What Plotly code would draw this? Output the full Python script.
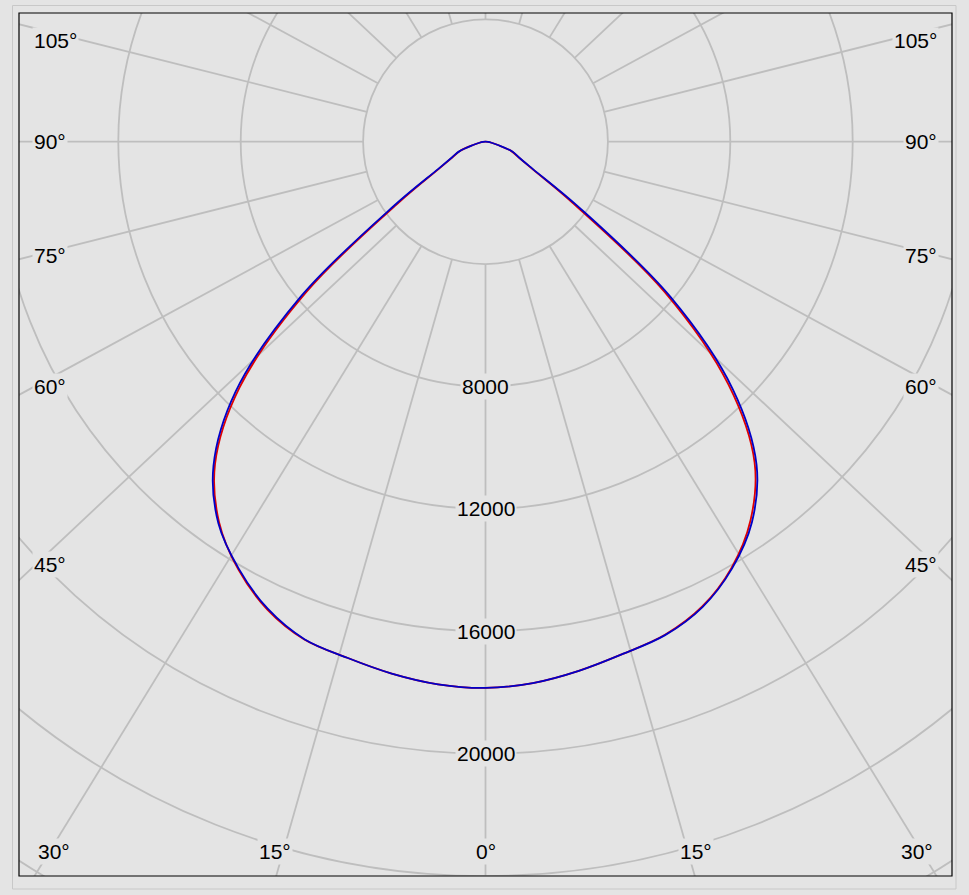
import numpy as np
import plotly.graph_objects as go

# ---------------- data ----------------
ANGLES = [0, 5, 10, 15, 20, 25, 30, 35, 40, 45, 50, 55, 60, 65, 70, 75, 80, 85, 90]
BLUE_LEFT = [17850, 17800, 17650, 17460, 17300, 16840, 16120, 15220, 13830, 11550,
             7890, 3650, 1790, 1200, 900, 420, 200, 80, 0]
BLUE_RIGHT = [17850, 17760, 17560, 17330, 17160, 16780, 16110, 15180, 13780, 11420,
              7890, 3700, 1790, 1200, 930, 420, 200, 80, 0]
RED_LEFT = [17850, 17800, 17650, 17460, 17310, 16870, 16150, 15180, 13750, 11370,
            7640, 3450, 1740, 1180, 890, 420, 200, 80, 0]
RED_RIGHT = [17850, 17760, 17560, 17330, 17150, 16760, 16080, 15100, 13680, 11230,
             7640, 3450, 1740, 1180, 900, 420, 200, 80, 0]

RING_VALUES = [4000, 8000, 12000, 16000, 20000, 24000, 28000]
RING_LABELS = [8000, 12000, 16000, 20000]
SPOKE_ANGLES = list(range(0, 360, 15))
ANGLE_TICKS = list(range(0, 181, 15))

# ---------------- styling / geometry ----------------
W, H = 969, 895
PL, PR, PT, PB = 19, 952, 13, 876      # plot box in pixels
CX, CY = 485.5, 141.7                  # centre of the diagram in pixels
K = 0.0306                             # pixels per cd
SPOKE_Y = 0.94                         # vertical squeeze of the spoke directions seen in the picture
BG = "#e4e4e4"
GRID = "#bebebe"
FONT = dict(family="Liberation Sans", size=21, color="#000000")

XR = [(PL - CX) / K, (PR - CX) / K]
YR = [-(PB - CY) / K, (CY - PT) / K]


def to_xy(theta_deg, value, side):
    t = np.radians(np.asarray(theta_deg, dtype=float))
    v = np.asarray(value, dtype=float)
    return side * v * np.sin(t), -v * np.cos(t)


def curve(left, right):
    xl, yl = to_xy(ANGLES[::-1], left[::-1], -1)
    xr, yr = to_xy(ANGLES, right, 1)
    return np.concatenate([xl, xr[1:]]), np.concatenate([yl, yr[1:]])


fig = go.Figure()

rx, ry = curve(RED_LEFT, RED_RIGHT)
bx, by = curve(BLUE_LEFT, BLUE_RIGHT)
fig.add_trace(go.Scatter(x=rx, y=ry, mode="lines",
                         line=dict(color="#e00000", width=1.8, shape="spline", smoothing=1.0),
                         hoverinfo="skip", showlegend=False))
fig.add_trace(go.Scatter(x=bx, y=by, mode="lines",
                         line=dict(color="#0000c8", width=1.8, shape="spline", smoothing=1.0),
                         hoverinfo="skip", showlegend=False))

shapes = []
for r in RING_VALUES:
    shapes.append(dict(type="circle", xref="x", yref="y", x0=-r, x1=r, y0=-r, y1=r,
                       line=dict(color=GRID, width=1.8), layer="below"))
r_in = RING_VALUES[0]
r_out = 60000
for a in SPOKE_ANGLES:
    t = np.radians(a)
    dx, dy = np.sin(t), -np.cos(t) * SPOKE_Y
    n = np.hypot(dx, dy)
    dx, dy = dx / n, dy / n
    shapes.append(dict(type="line", xref="x", yref="y",
                       x0=r_in * dx, y0=r_in * dy,
                       x1=r_out * dx, y1=r_out * dy,
                       line=dict(color=GRID, width=1.8), layer="below"))
# outer light frame of the control
shapes.append(dict(type="rect", xref="paper", yref="paper",
                   x0=(12.5 - PL) / (PR - PL), x1=(956 - PL) / (PR - PL),
                   y0=(PB - 889) / (PB - PT), y1=(PB - 5.5) / (PB - PT),
                   line=dict(color="#c8c8c8", width=1), layer="below"))
# plot frame
shapes.append(dict(type="rect", xref="paper", yref="paper", x0=0, x1=1, y0=0, y1=1,
                   line=dict(color="#000000", width=1.2), layer="above"))

annotations = []
for v in RING_LABELS:
    annotations.append(dict(x=0, y=-v, xref="x", yref="y", text=str(v), showarrow=False,
                            font=FONT, bgcolor=BG, borderpad=1, xanchor="center", yanchor="middle"))

D = 0.965 * (abs(XR[0]) - 28 / K)
for a in ANGLE_TICKS:
    t = np.radians(a)
    s, c = np.sin(t), np.cos(t)
    hits = {}
    if s > 1e-9:
        hits["side"] = XR[1] / s
    if c > 1e-9:
        hits["bottom"] = -YR[0] / c
    if c < -1e-9:
        hits["top"] = YR[1] / (-c)
    where = min(hits, key=hits.get)
    label = f"{a}°"
    if where == "side":
        y = min(-D * c / s, YR[1] - 27 / K)
        annotations.append(dict(x=XR[0] + 13 / K, y=y, xref="x", yref="y", text=label, showarrow=False,
                                font=FONT, bgcolor=BG, borderpad=1, xanchor="left", yanchor="middle"))
        annotations.append(dict(x=XR[1] - 13 / K, y=y, xref="x", yref="y", text=label, showarrow=False,
                                font=FONT, bgcolor=BG, borderpad=1, xanchor="right", yanchor="middle"))
    elif where == "bottom":
        y = YR[0] + 25 / K
        hit_x = -YR[0] * s / c
        if a == 0:
            xs = [0.0]
        else:
            cx = min(hit_x + 14 / K, XR[1] - 35 / K)
            xs = [-cx, cx]
        for x in xs:
            annotations.append(dict(x=x, y=y, xref="x", yref="y", text=label, showarrow=False,
                                    font=FONT, bgcolor=BG, borderpad=1, xanchor="center", yanchor="middle"))

fig.update_layout(
    width=W, height=H,
    margin=dict(l=PL, r=W - PR, t=PT, b=H - PB),
    paper_bgcolor=BG, plot_bgcolor=BG,
    xaxis=dict(range=XR, visible=False, showgrid=False, zeroline=False, fixedrange=True),
    yaxis=dict(range=YR, visible=False, showgrid=False, zeroline=False, fixedrange=True),
    shapes=shapes, annotations=annotations,
    showlegend=False,
)

fig.write_html(
    "out.html",
    config={"displayModeBar": False},
    post_script=f"document.body.style.margin='0px';document.body.style.background='{BG}';"
                "document.body.style.overflow='hidden';",
)
